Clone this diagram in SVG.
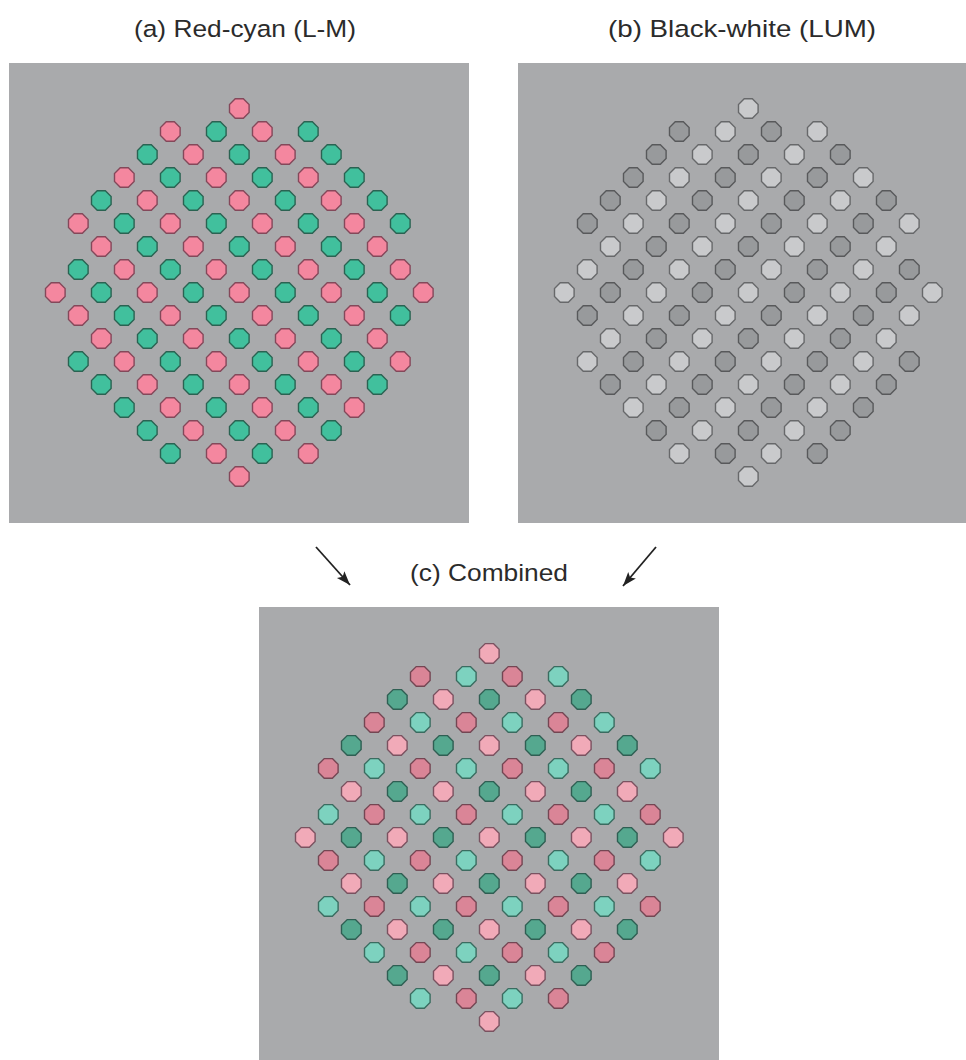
<svg xmlns="http://www.w3.org/2000/svg" xmlns:xlink="http://www.w3.org/1999/xlink" width="966" height="1060" viewBox="0 0 966 1060">
<style>
.bg{fill:#a9aaac}
.lbl{font-family:"Liberation Sans",Arial,sans-serif;font-size:24.5px;fill:#2b2b2b}
.pk{fill:#f4879f;stroke:#84485a}
.cy{fill:#41c09d;stroke:#2a6352}
.lt{fill:#c9cacc;stroke:#67686a}
.dk{fill:#989a9c;stroke:#58595b}
.lp{fill:#f1aab8;stroke:#7a5260}
.dp{fill:#da8597;stroke:#744653}
.lc{fill:#7dd2bf;stroke:#3a6c60}
.dc{fill:#55a88f;stroke:#2f5f53}
.dots{stroke-width:1.4}
.arr{stroke:#222;stroke-width:1.8;fill:none;marker-end:url(#ah)}
</style>
<defs>
<marker id="ah" markerUnits="userSpaceOnUse" markerWidth="16" markerHeight="12" refX="14" refY="5" orient="auto">
<path d="M0,0 L14,5 L0,10 L3,5 z" fill="#222"/>
</marker>
<polygon id="o" points="4.06,-9.8 9.8,-4.06 9.8,4.06 4.06,9.8 -4.06,9.8 -9.8,4.06 -9.8,-4.06 -4.06,-9.8"/>
<g id="Pe">
<use href="#o" x="0" y="-184"/>
<use href="#o" x="-46" y="-138"/><use href="#o" x="46" y="-138"/>
<use href="#o" x="-92" y="-92"/><use href="#o" x="0" y="-92"/><use href="#o" x="92" y="-92"/>
<use href="#o" x="-138" y="-46"/><use href="#o" x="-46" y="-46"/><use href="#o" x="46" y="-46"/><use href="#o" x="138" y="-46"/>
<use href="#o" x="-184" y="0"/><use href="#o" x="-92" y="0"/><use href="#o" x="0" y="0"/><use href="#o" x="92" y="0"/><use href="#o" x="184" y="0"/>
<use href="#o" x="-138" y="46"/><use href="#o" x="-46" y="46"/><use href="#o" x="46" y="46"/><use href="#o" x="138" y="46"/>
<use href="#o" x="-92" y="92"/><use href="#o" x="0" y="92"/><use href="#o" x="92" y="92"/>
<use href="#o" x="-46" y="138"/><use href="#o" x="46" y="138"/>
<use href="#o" x="0" y="184"/>
</g>
<g id="Ce">
<use href="#o" x="-92" y="-138"/><use href="#o" x="0" y="-138"/><use href="#o" x="92" y="-138"/>
<use href="#o" x="-138" y="-92"/><use href="#o" x="-46" y="-92"/><use href="#o" x="46" y="-92"/><use href="#o" x="138" y="-92"/>
<use href="#o" x="-92" y="-46"/><use href="#o" x="0" y="-46"/><use href="#o" x="92" y="-46"/>
<use href="#o" x="-138" y="0"/><use href="#o" x="-46" y="0"/><use href="#o" x="46" y="0"/><use href="#o" x="138" y="0"/>
<use href="#o" x="-92" y="46"/><use href="#o" x="0" y="46"/><use href="#o" x="92" y="46"/>
<use href="#o" x="-138" y="92"/><use href="#o" x="-46" y="92"/><use href="#o" x="46" y="92"/><use href="#o" x="138" y="92"/>
<use href="#o" x="-92" y="138"/><use href="#o" x="0" y="138"/><use href="#o" x="92" y="138"/>
</g>
<g id="Po">
<use href="#o" x="-69" y="-161"/><use href="#o" x="23" y="-161"/>
<use href="#o" x="-115" y="-115"/><use href="#o" x="-23" y="-115"/><use href="#o" x="69" y="-115"/>
<use href="#o" x="-161" y="-69"/><use href="#o" x="-69" y="-69"/><use href="#o" x="23" y="-69"/><use href="#o" x="115" y="-69"/>
<use href="#o" x="-115" y="-23"/><use href="#o" x="-23" y="-23"/><use href="#o" x="69" y="-23"/><use href="#o" x="161" y="-23"/>
<use href="#o" x="-161" y="23"/><use href="#o" x="-69" y="23"/><use href="#o" x="23" y="23"/><use href="#o" x="115" y="23"/>
<use href="#o" x="-115" y="69"/><use href="#o" x="-23" y="69"/><use href="#o" x="69" y="69"/><use href="#o" x="161" y="69"/>
<use href="#o" x="-69" y="115"/><use href="#o" x="23" y="115"/><use href="#o" x="115" y="115"/>
<use href="#o" x="-23" y="161"/><use href="#o" x="69" y="161"/>
</g>
<g id="Co">
<use href="#o" x="-23" y="-161"/><use href="#o" x="69" y="-161"/>
<use href="#o" x="-69" y="-115"/><use href="#o" x="23" y="-115"/><use href="#o" x="115" y="-115"/>
<use href="#o" x="-115" y="-69"/><use href="#o" x="-23" y="-69"/><use href="#o" x="69" y="-69"/><use href="#o" x="161" y="-69"/>
<use href="#o" x="-161" y="-23"/><use href="#o" x="-69" y="-23"/><use href="#o" x="23" y="-23"/><use href="#o" x="115" y="-23"/>
<use href="#o" x="-115" y="23"/><use href="#o" x="-23" y="23"/><use href="#o" x="69" y="23"/><use href="#o" x="161" y="23"/>
<use href="#o" x="-161" y="69"/><use href="#o" x="-69" y="69"/><use href="#o" x="23" y="69"/><use href="#o" x="115" y="69"/>
<use href="#o" x="-115" y="115"/><use href="#o" x="-23" y="115"/><use href="#o" x="69" y="115"/>
<use href="#o" x="-69" y="161"/><use href="#o" x="23" y="161"/>
</g>
</defs>
<rect width="966" height="1060" fill="#ffffff"/>

<g id="panel-a">
<text class="lbl" x="134" y="37" textLength="222" lengthAdjust="spacingAndGlyphs">(a) Red-cyan (L-M)</text>
<rect class="bg" x="9" y="63" width="460" height="460"/>
<g class="dots" transform="translate(239.3,292.5)">
<use href="#Pe" class="pk"/><use href="#Po" class="pk"/>
<use href="#Ce" class="cy"/><use href="#Co" class="cy"/>
</g>
</g>

<g id="panel-b">
<text class="lbl" x="608" y="37" textLength="268" lengthAdjust="spacingAndGlyphs">(b) Black-white (LUM)</text>
<rect class="bg" x="518" y="63" width="460" height="460"/>
<g class="dots" transform="translate(748.3,292.5)">
<use href="#Pe" class="lt"/><use href="#Co" class="lt"/>
<use href="#Po" class="dk"/><use href="#Ce" class="dk"/>
</g>
</g>

<g id="panel-c">
<text class="lbl" x="410" y="581" textLength="158" lengthAdjust="spacingAndGlyphs">(c) Combined</text>
<rect class="bg" x="259" y="607" width="460" height="460"/>
<g class="dots" transform="translate(489.3,837.4)">
<use href="#Pe" class="lp"/><use href="#Po" class="dp"/>
<use href="#Co" class="lc"/><use href="#Ce" class="dc"/>
</g>
</g>

<g id="connectors">
<line class="arr" x1="316" y1="547" x2="350" y2="585"/>
<line class="arr" x1="656" y1="547" x2="623" y2="586"/>
</g>
</svg>
